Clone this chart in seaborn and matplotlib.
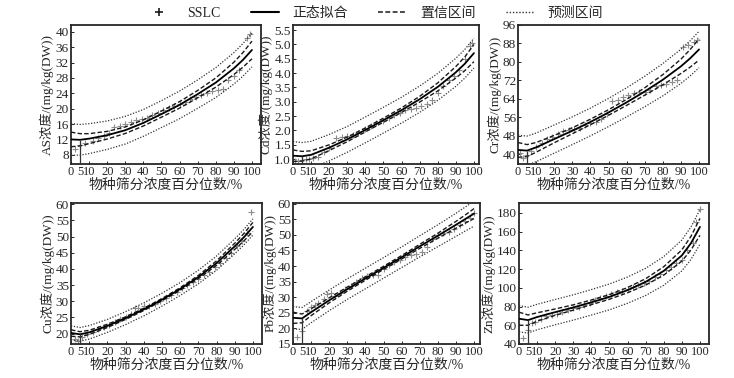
import numpy as np
import pandas as pd
import matplotlib
matplotlib.use('Agg')
import matplotlib.pyplot as plt
from matplotlib.lines import Line2D
import seaborn as sns

pct = [0, 5, 10, 20, 30, 40, 50, 60, 70, 80, 90, 95, 100]

# fitted curve, half-width of confidence band, half-width of prediction band
as_fit = [12.0, 11.9, 12.2, 13.1, 14.4, 16.3, 18.6, 21.0, 23.8, 26.8, 30.5, 32.7, 35.3]
as_ci = [1.9, 1.6, 1.3, 1.0, 0.85, 0.8, 0.8, 0.85, 0.95, 1.2, 1.6, 1.9, 2.3]
as_pi = [4.1, 4.0, 3.9, 3.7, 3.6, 3.5, 3.5, 3.6, 3.7, 3.9, 4.1, 4.25, 4.4]

cd_fit = [1.12, 1.10, 1.15, 1.40, 1.69, 2.02, 2.36, 2.71, 3.09, 3.52, 4.03, 4.33, 4.70]
cd_ci = [0.20, 0.17, 0.14, 0.10, 0.08, 0.07, 0.07, 0.08, 0.10, 0.14, 0.20, 0.24, 0.30]
cd_pi = [0.49, 0.48, 0.47, 0.46, 0.45, 0.45, 0.45, 0.45, 0.46, 0.47, 0.49, 0.50, 0.52]

cr_fit = [41.9, 41.6, 43.0, 46.6, 50.2, 54.0, 58.1, 62.5, 67.2, 72.3, 78.1, 81.5, 85.4]
cr_ci = [3.2, 2.6, 2.1, 1.6, 1.3, 1.2, 1.2, 1.3, 1.6, 2.2, 3.1, 3.8, 4.6]
cr_pi = [6.4, 6.3, 6.2, 6.1, 6.0, 6.0, 6.1, 6.3, 6.6, 7.0, 7.4, 7.6, 7.9]

cu_fit = [20.2, 19.8, 20.4, 22.4, 24.8, 27.5, 30.5, 33.8, 37.5, 41.8, 47.0, 49.8, 53.0]
cu_ci = [1.0, 0.8, 0.65, 0.5, 0.4, 0.35, 0.35, 0.4, 0.5, 0.7, 0.95, 1.15, 1.4]
cu_pi = [2.2, 2.1, 2.1, 2.0, 2.0, 2.0, 2.0, 2.0, 2.1, 2.2, 2.3, 2.4, 2.5]

pb_fit = [23.4, 23.2, 25.2, 29.0, 32.6, 36.0, 39.4, 42.8, 46.3, 49.7, 53.2, 55.0, 56.8]
pb_ci = [1.8, 1.4, 1.1, 0.8, 0.65, 0.55, 0.5, 0.55, 0.65, 0.8, 1.1, 1.3, 1.6]
pb_pi = [3.6, 3.5, 3.4, 3.3, 3.3, 3.3, 3.3, 3.3, 3.4, 3.5, 3.7, 3.85, 4.0]

zn_fit = [67.0, 65.5, 68.8, 74.0, 79.0, 84.5, 90.3, 97.5, 106.3, 118.0, 134.5, 147.5, 165.0]
zn_ci = [7.0, 5.5, 4.5, 3.4, 2.8, 2.5, 2.5, 2.8, 3.4, 4.5, 6.0, 7.3, 9.0]
zn_pi = [14.0, 13.8, 13.6, 13.5, 13.5, 13.6, 13.8, 14.0, 14.5, 15.3, 16.5, 17.3, 18.5]

# SSLC points
as_x = [2, 5, 8, 12, 15, 18, 21, 24, 27, 30, 33, 36, 39, 42, 45, 48, 51, 54, 57,
        60, 63, 66, 69, 72, 75, 78, 81, 84, 87, 90, 93, 97, 99]
as_y = [9.5, 10.6, 11.0, 11.5, 12.3, 13.0, 13.6, 15.2, 15.5, 16.0, 16.5, 17.0, 17.4,
        17.6, 18.3, 19.0, 19.6, 20.2, 20.8, 21.3, 21.8, 22.4, 23.0, 23.5, 24.0, 24.5,
        25.0, 25.2, 27.5, 28.5, 30.0, 38.5, 39.5]

cd_x = [1, 3, 5, 7, 9, 11, 14, 17, 20, 24, 27, 30, 33, 36, 40, 43, 46, 50, 53, 56,
        59, 62, 65, 68, 71, 74, 77, 80, 83, 86, 89, 92, 95, 98, 99]
cd_y = [0.93, 0.95, 0.97, 0.99, 1.02, 1.05, 1.08, 1.25, 1.4, 1.72, 1.78, 1.82, 1.85,
        1.9, 2.05, 2.15, 2.25, 2.33, 2.45, 2.55, 2.62, 2.7, 2.75, 2.8, 2.85, 2.92,
        3.05, 3.3, 3.55, 3.75, 3.9, 4.1, 4.5, 4.95, 5.05]

cr_x = [1, 3, 5, 7, 10, 13, 16, 19, 22, 25, 28, 31, 34, 37, 40, 43, 46, 49, 52, 55,
        58, 61, 64, 67, 70, 73, 76, 79, 82, 85, 88, 91, 94, 97, 99]
cr_y = [40.5, 38.5, 39.5, 41.5, 43.0, 45.0, 46.5, 47.5, 49.0, 50.0, 50.5, 51.0, 51.5,
        52.5, 53.5, 54.0, 55.5, 57.5, 63.0, 63.5, 65.0, 65.5, 66.5, 67.0, 67.0, 68.0,
        69.5, 70.0, 70.5, 71.5, 72.0, 86.5, 87.5, 88.5, 89.5]

cu_x = [2, 4, 6, 9, 12, 15, 18, 21, 24, 27, 30, 33, 35, 37, 40, 43, 46, 49, 52, 55,
        58, 61, 64, 67, 70, 73, 76, 79, 82, 85, 88, 91, 94, 97, 99]
cu_y = [18.3, 17.8, 19.0, 19.8, 20.6, 21.3, 22.0, 22.8, 23.6, 24.4, 25.3, 26.0, 27.8,
        28.0, 28.6, 28.5, 29.3, 30.2, 31.0, 32.0, 33.0, 34.0, 35.0, 36.0, 37.0, 38.0,
        39.0, 40.5, 42.0, 43.5, 45.0, 47.0, 48.5, 51.0, 57.5]

pb_x = [2, 5, 8, 10, 12, 14, 17, 19, 21, 23, 26, 29, 32, 35, 38, 41, 44, 47, 50, 53,
        56, 59, 62, 65, 68, 71, 74, 77, 80, 83, 86, 89, 92, 95, 98, 100]
pb_y = [17.2, 19.2, 25.5, 27.0, 27.5, 28.0, 29.5, 31.0, 31.2, 30.5, 31.5, 32.5, 33.5,
        34.8, 36.0, 36.8, 37.2, 37.0, 39.0, 40.3, 41.2, 42.0, 42.8, 43.5, 44.0, 44.5,
        46.0, 48.5, 50.0, 50.5, 51.0, 52.0, 53.0, 54.5, 55.5, 57.0]

zn_x = [2, 5, 7, 9, 12, 15, 18, 21, 24, 27, 30, 33, 36, 39, 42, 45, 48, 51, 54, 57,
        60, 63, 66, 69, 72, 75, 78, 81, 84, 87, 90, 93, 96, 98, 100]
zn_y = [46, 55, 62, 64, 67, 69.5, 71, 72.5, 74, 76, 78, 80, 82, 84, 87, 89, 91, 93,
        95, 97, 99, 101, 103, 105, 107, 111, 115, 119, 122, 126, 130, 140, 148, 170, 184]

x_ticks = [0, 5, 10, 20, 30, 40, 50, 60, 70, 80, 90, 100]
x_label = '物种筛分浓度百分位数/%'

panels = [
    ('AS', as_fit, as_ci, as_pi, as_x, as_y, (5.6, 41.8), np.arange(8, 41, 4), '%d'),
    ('Cd', cd_fit, cd_ci, cd_pi, cd_x, cd_y, (0.83, 5.68), np.arange(1.0, 5.51, 0.5), '%.1f'),
    ('Cr', cr_fit, cr_ci, cr_pi, cr_x, cr_y, (35.8, 96.0), np.arange(40, 97, 8), '%d'),
    ('Cu', cu_fit, cu_ci, cu_pi, cu_x, cu_y, (16.8, 60.4), np.arange(20, 61, 5), '%d'),
    ('Pb', pb_fit, pb_ci, pb_pi, pb_x, pb_y, (15, 60.2), np.arange(15, 61, 5), '%d'),
    ('Zn', zn_fit, zn_ci, zn_pi, zn_x, zn_y, (40, 190.5), np.arange(40, 181, 20), '%d'),
]

sns.set_style('ticks')
plt.rcParams['font.family'] = ['Liberation Serif', 'Noto Sans CJK SC']
plt.rcParams['axes.unicode_minus'] = False

W, H = 734, 378
fig = plt.figure(figsize=(W / 100, H / 100), dpi=100)

# axes boxes in pixels (left, top, right, bottom) and x upper limit
boxes = [(71, 25, 261, 164, 105), (293, 25, 479, 164, 102.8), (518, 25, 709, 164, 105.5),
         (71, 203, 262, 344, 105), (293, 203, 480, 344, 103.3), (519, 203, 709, 344, 105)]

dash = (0, (3.2, 1.6))
dot = (0, (1, 1.3))

for (name, fit, ci, pi, sx, sy, ylim, yt, fmt), (l, t, r, b, xr) in zip(panels, boxes):
    ax = fig.add_axes([l / W, 1 - b / H, (r - l) / W, (b - t) / H])
    df = pd.DataFrame({'pct': pct, 'fit': fit, 'ci': ci, 'pi': pi})
    df['ci_hi'] = df['fit'] + df['ci']
    df['ci_lo'] = df['fit'] - df['ci']
    df['pi_hi'] = df['fit'] + df['pi']
    df['pi_lo'] = df['fit'] - df['pi']

    sns.scatterplot(x=sx, y=sy, ax=ax, marker='+', s=22, color='0.55',
                    linewidth=0.8, zorder=2)
    for col in ['pi_hi', 'pi_lo']:
        sns.lineplot(data=df, x='pct', y=col, ax=ax, color='0.2', lw=0.9,
                     linestyle=dot, zorder=3)
    for col in ['ci_hi', 'ci_lo']:
        sns.lineplot(data=df, x='pct', y=col, ax=ax, color='0.1', lw=1.0,
                     linestyle=dash, zorder=3)
    sns.lineplot(data=df, x='pct', y='fit', ax=ax, color='k', lw=1.3, zorder=4)
    # HC5 marker
    ax.vlines(pct[1], ylim[0], fit[1], color='0.2', lw=0.9, zorder=4)

    ax.set_xlim(0, xr)
    ax.set_ylim(*ylim)
    ax.set_xticks(x_ticks)
    ax.set_yticks(yt)
    ax.set_yticklabels([fmt % v for v in yt])
    ax.tick_params(direction='in', length=2.5, width=0.7, pad=1.5, colors='0.15')
    ax.tick_params(axis='y', labelsize=9.5)
    ax.tick_params(axis='x', labelsize=9)
    for s in ax.spines.values():
        s.set_color('0.15')
        s.set_linewidth(1.3)
    ax.set_xlabel(x_label, fontsize=10, labelpad=0.5, color='0.15')
    ax.set_ylabel(name + '浓度/(mg/kg(DW))', fontsize=9.5, labelpad=1, color='0.15')

handles = [
    Line2D([], [], color='0.1', marker='+', linestyle='none', markersize=6, mew=1.2),
    Line2D([], [], color='k', lw=1.5),
    Line2D([], [], color='0.1', lw=1.1, linestyle=dash),
    Line2D([], [], color='0.2', lw=1.0, linestyle=dot),
]
labels = ['SSLC', '正态拟合', '置信区间', '预测区间']
fig.legend(handles, labels, loc='upper center', bbox_to_anchor=(0.51, 1.015), ncol=4,
           frameon=False, fontsize=10, handlelength=2.0, columnspacing=2.2,
           handletextpad=1.0)

fig.savefig('out.png', dpi=100)
